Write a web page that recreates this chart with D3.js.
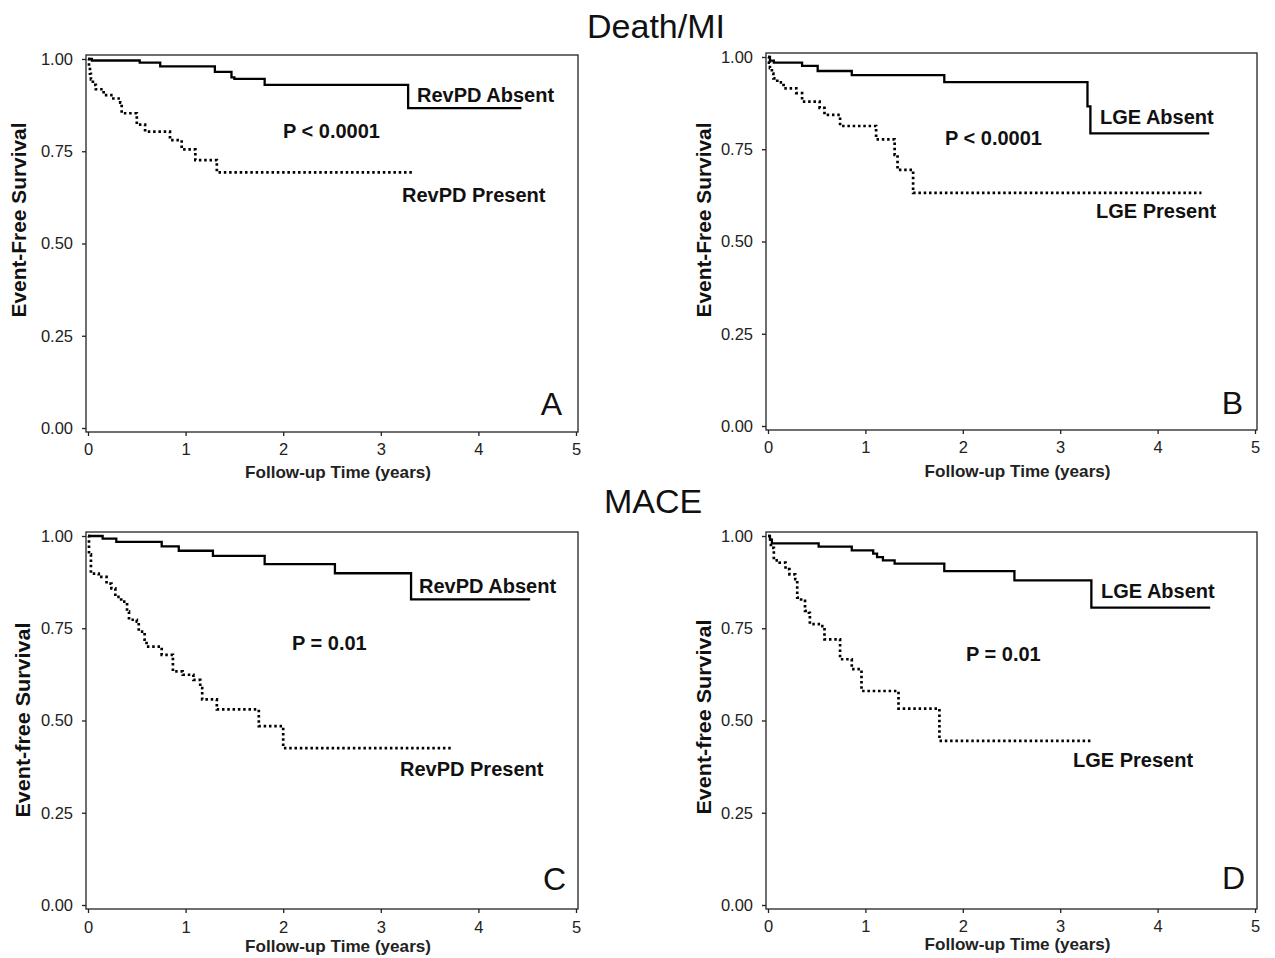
<!DOCTYPE html>
<html>
<head>
<meta charset="utf-8">
<script src="https://cdn.jsdelivr.net/npm/d3@7"></script>
<style>
  body { margin: 0; background: #fff; }
  text { font-family: 'Liberation Sans', Arial, sans-serif; }
</style>
</head>
<body>
<div id="chart"></div>
<script>
// Kaplan-Meier step data, [time in years, event-free survival]
const deathMI_revpdAbsent = [[0,1],[0.04,0.996],[0.53,0.99],[0.74,0.98],[1.30,0.965],[1.47,0.95],[1.50,0.946],[1.81,0.93],[3.28,0.867],[4.44,0.867]];
const deathMI_revpdPresent = [[0,1],[0.01,0.98],[0.02,0.96],[0.03,0.945],[0.05,0.93],[0.08,0.918],[0.16,0.902],[0.26,0.893],[0.33,0.882],[0.345,0.853],[0.50,0.822],[0.585,0.803],[0.84,0.78],[0.96,0.755],[1.10,0.726],[1.32,0.693],[3.32,0.693]];
const deathMI_lgeAbsent = [[0,1],[0.02,0.99],[0.06,0.985],[0.35,0.976],[0.51,0.962],[0.86,0.951],[1.81,0.932],[3.28,0.866],[3.31,0.793],[4.53,0.793]];
const deathMI_lgePresent = [[0,1],[0.01,0.985],[0.02,0.97],[0.04,0.955],[0.055,0.942],[0.095,0.931],[0.16,0.915],[0.29,0.902],[0.35,0.879],[0.53,0.862],[0.58,0.843],[0.74,0.813],[1.11,0.777],[1.30,0.735],[1.33,0.694],[1.49,0.632],[4.45,0.632]];
const mace_revpdAbsent = [[0,1],[0.15,0.993],[0.29,0.984],[0.755,0.972],[0.93,0.96],[1.28,0.946],[1.81,0.924],[2.53,0.899],[3.31,0.828],[4.53,0.828]];
const mace_revpdPresent = [[0,1],[0.01,0.95],[0.03,0.898],[0.11,0.889],[0.19,0.871],[0.24,0.858],[0.28,0.835],[0.34,0.822],[0.40,0.795],[0.42,0.773],[0.50,0.768],[0.52,0.741],[0.58,0.719],[0.60,0.70],[0.755,0.678],[0.87,0.633],[0.97,0.624],[1.08,0.61],[1.15,0.588],[1.17,0.557],[1.32,0.53],[1.75,0.485],[2.0,0.425],[3.73,0.425]];
const mace_lgeAbsent = [[0,1],[0.02,0.99],[0.04,0.98],[0.52,0.971],[0.86,0.961],[1.08,0.952],[1.12,0.943],[1.18,0.934],[1.30,0.925],[1.81,0.905],[2.53,0.88],[3.32,0.806],[4.54,0.806]];
const mace_lgePresent = [[0,1],[0.03,0.968],[0.06,0.934],[0.12,0.928],[0.18,0.91],[0.22,0.896],[0.28,0.883],[0.30,0.833],[0.34,0.824],[0.38,0.797],[0.42,0.792],[0.43,0.761],[0.54,0.756],[0.58,0.72],[0.74,0.666],[0.86,0.639],[0.96,0.58],[1.34,0.532],[1.76,0.445],[3.32,0.445]];

const xTicks = [0, 1, 2, 3, 4, 5];
const yTicks = [0, 0.25, 0.5, 0.75, 1];
const sectionTitles = ["Death/MI", "MACE"];

// panel layout: pixel range of the scales plus label placement
const panels = [
  { letter: "A", absent: deathMI_revpdAbsent, present: deathMI_revpdPresent, yTitle: "Event-Free Survival", pText: "P < 0.0001",
    absentLabel: "RevPD Absent", presentLabel: "RevPD Present",
    x0: 88, x1: 576, y1: 59, y0: 428, tickY: 455, titleY: 478, yTitleX: 25, yTitleY: 220,
    abs: [417, 102], pres: [402, 202], p: [283, 138], let: [562, 415] },
  { letter: "B", absent: deathMI_lgeAbsent, present: deathMI_lgePresent, yTitle: "Event-Free Survival", pText: "P < 0.0001",
    absentLabel: "LGE Absent", presentLabel: "LGE Present",
    x0: 768, x1: 1255, y1: 57, y0: 426, tickY: 453, titleY: 477, yTitleX: 710, yTitleY: 220,
    abs: [1100, 124], pres: [1096, 218], p: [945, 145], let: [1243, 414] },
  { letter: "C", absent: mace_revpdAbsent, present: mace_revpdPresent, yTitle: "Event-free Survival", pText: "P = 0.01",
    absentLabel: "RevPD Absent", presentLabel: "RevPD Present",
    x0: 88, x1: 576, y1: 536, y0: 905, tickY: 933, titleY: 952, yTitleX: 29, yTitleY: 720,
    abs: [419, 593], pres: [400, 776], p: [292, 650], let: [566, 890] },
  { letter: "D", absent: mace_lgeAbsent, present: mace_lgePresent, yTitle: "Event-free Survival", pText: "P = 0.01",
    absentLabel: "LGE Absent", presentLabel: "LGE Present",
    x0: 768, x1: 1255, y1: 536, y0: 905, tickY: 932, titleY: 950, yTitleX: 710, yTitleY: 717,
    abs: [1101, 598], pres: [1073, 767], p: [966, 661], let: [1245, 889] }
];

const width = 1275, height = 958;
const svg = d3.select("#chart").append("svg")
  .attr("width", width)
  .attr("height", height);

// section headers
svg.append("text").attr("x", 656).attr("y", 38).attr("text-anchor", "middle")
  .style("font-size", "34px").style("fill", "#111").text(sectionTitles[0]);
svg.append("text").attr("x", 653).attr("y", 513).attr("text-anchor", "middle")
  .style("font-size", "34px").style("fill", "#111").text(sectionTitles[1]);

panels.forEach(p => {
  const x = d3.scaleLinear().domain([0, 5]).range([p.x0, p.x1]);
  const y = d3.scaleLinear().domain([0, 1]).range([p.y0, p.y1]);
  const g = svg.append("g");

  // frame box
  const left = x(0) - 2, right = x(5) + 2, top = y(1) - 4, bottom = y(0) + 4;
  g.append("rect")
    .attr("x", left).attr("y", top)
    .attr("width", right - left).attr("height", bottom - top)
    .attr("fill", "none").attr("stroke", "#222").attr("stroke-width", 1.3);

  // y axis
  const ya = g.append("g").attr("transform", `translate(${left},0)`)
    .call(d3.axisLeft(y).tickValues(yTicks).tickFormat(d3.format(".2f")).tickSize(4).tickPadding(9).tickSizeOuter(0));
  ya.select(".domain").remove();
  ya.selectAll("line").attr("stroke", "#222").attr("stroke-width", 1.3);
  ya.selectAll("text").style("font-size", "16.5px").style("fill", "#222")
    .style("font-family", "'Liberation Sans', Arial, sans-serif");

  // x axis
  const xa = g.append("g").attr("transform", `translate(0,${bottom})`)
    .call(d3.axisBottom(x).tickValues(xTicks).tickFormat(d3.format("d")).tickSize(4).tickPadding(6).tickSizeOuter(0));
  xa.select(".domain").remove();
  xa.selectAll("line").attr("stroke", "#222").attr("stroke-width", 1.3);
  xa.selectAll("text").attr("y", null).attr("dy", null)
    .attr("transform", `translate(0,${p.tickY - bottom})`)
    .style("font-size", "16.5px").style("fill", "#222")
    .style("font-family", "'Liberation Sans', Arial, sans-serif");

  // axis titles
  g.append("text")
    .attr("x", (p.x0 + p.x1) / 2 + 6).attr("y", p.titleY)
    .attr("text-anchor", "middle")
    .attr("textLength", 186).attr("lengthAdjust", "spacingAndGlyphs")
    .style("font-size", "17px").style("font-weight", "bold").style("fill", "#222")
    .text("Follow-up Time (years)");

  g.append("text")
    .attr("transform", `translate(${p.yTitleX + 1},${p.yTitleY}) rotate(-90)`)
    .attr("text-anchor", "middle")
    .attr("textLength", 195).attr("lengthAdjust", "spacingAndGlyphs")
    .style("font-size", "20px").style("font-weight", "bold").style("fill", "#111")
    .text(p.yTitle);

  // survival curves
  const line = d3.line().x(d => x(d[0])).y(d => y(d[1])).curve(d3.curveStepAfter);
  g.append("path").datum(p.absent)
    .attr("d", line).attr("fill", "none")
    .attr("stroke", "#000").attr("stroke-width", 2.3);
  g.append("path").datum(p.present)
    .attr("d", line).attr("fill", "none")
    .attr("stroke", "#000").attr("stroke-width", 2.7)
    .attr("stroke-dasharray", "2.5,2.8");

  // annotations
  const ann = (pos, txt) => g.append("text")
    .attr("x", pos[0]).attr("y", pos[1])
    .style("font-size", "20px").style("font-weight", "bold").style("fill", "#111")
    .text(txt);
  ann(p.abs, p.absentLabel);
  ann(p.pres, p.presentLabel);
  ann(p.p, p.pText);

  g.append("text")
    .attr("x", p.let[0]).attr("y", p.let[1])
    .attr("text-anchor", "end")
    .style("font-size", "32px").style("fill", "#111")
    .text(p.letter);
});
</script>
</body>
</html>
